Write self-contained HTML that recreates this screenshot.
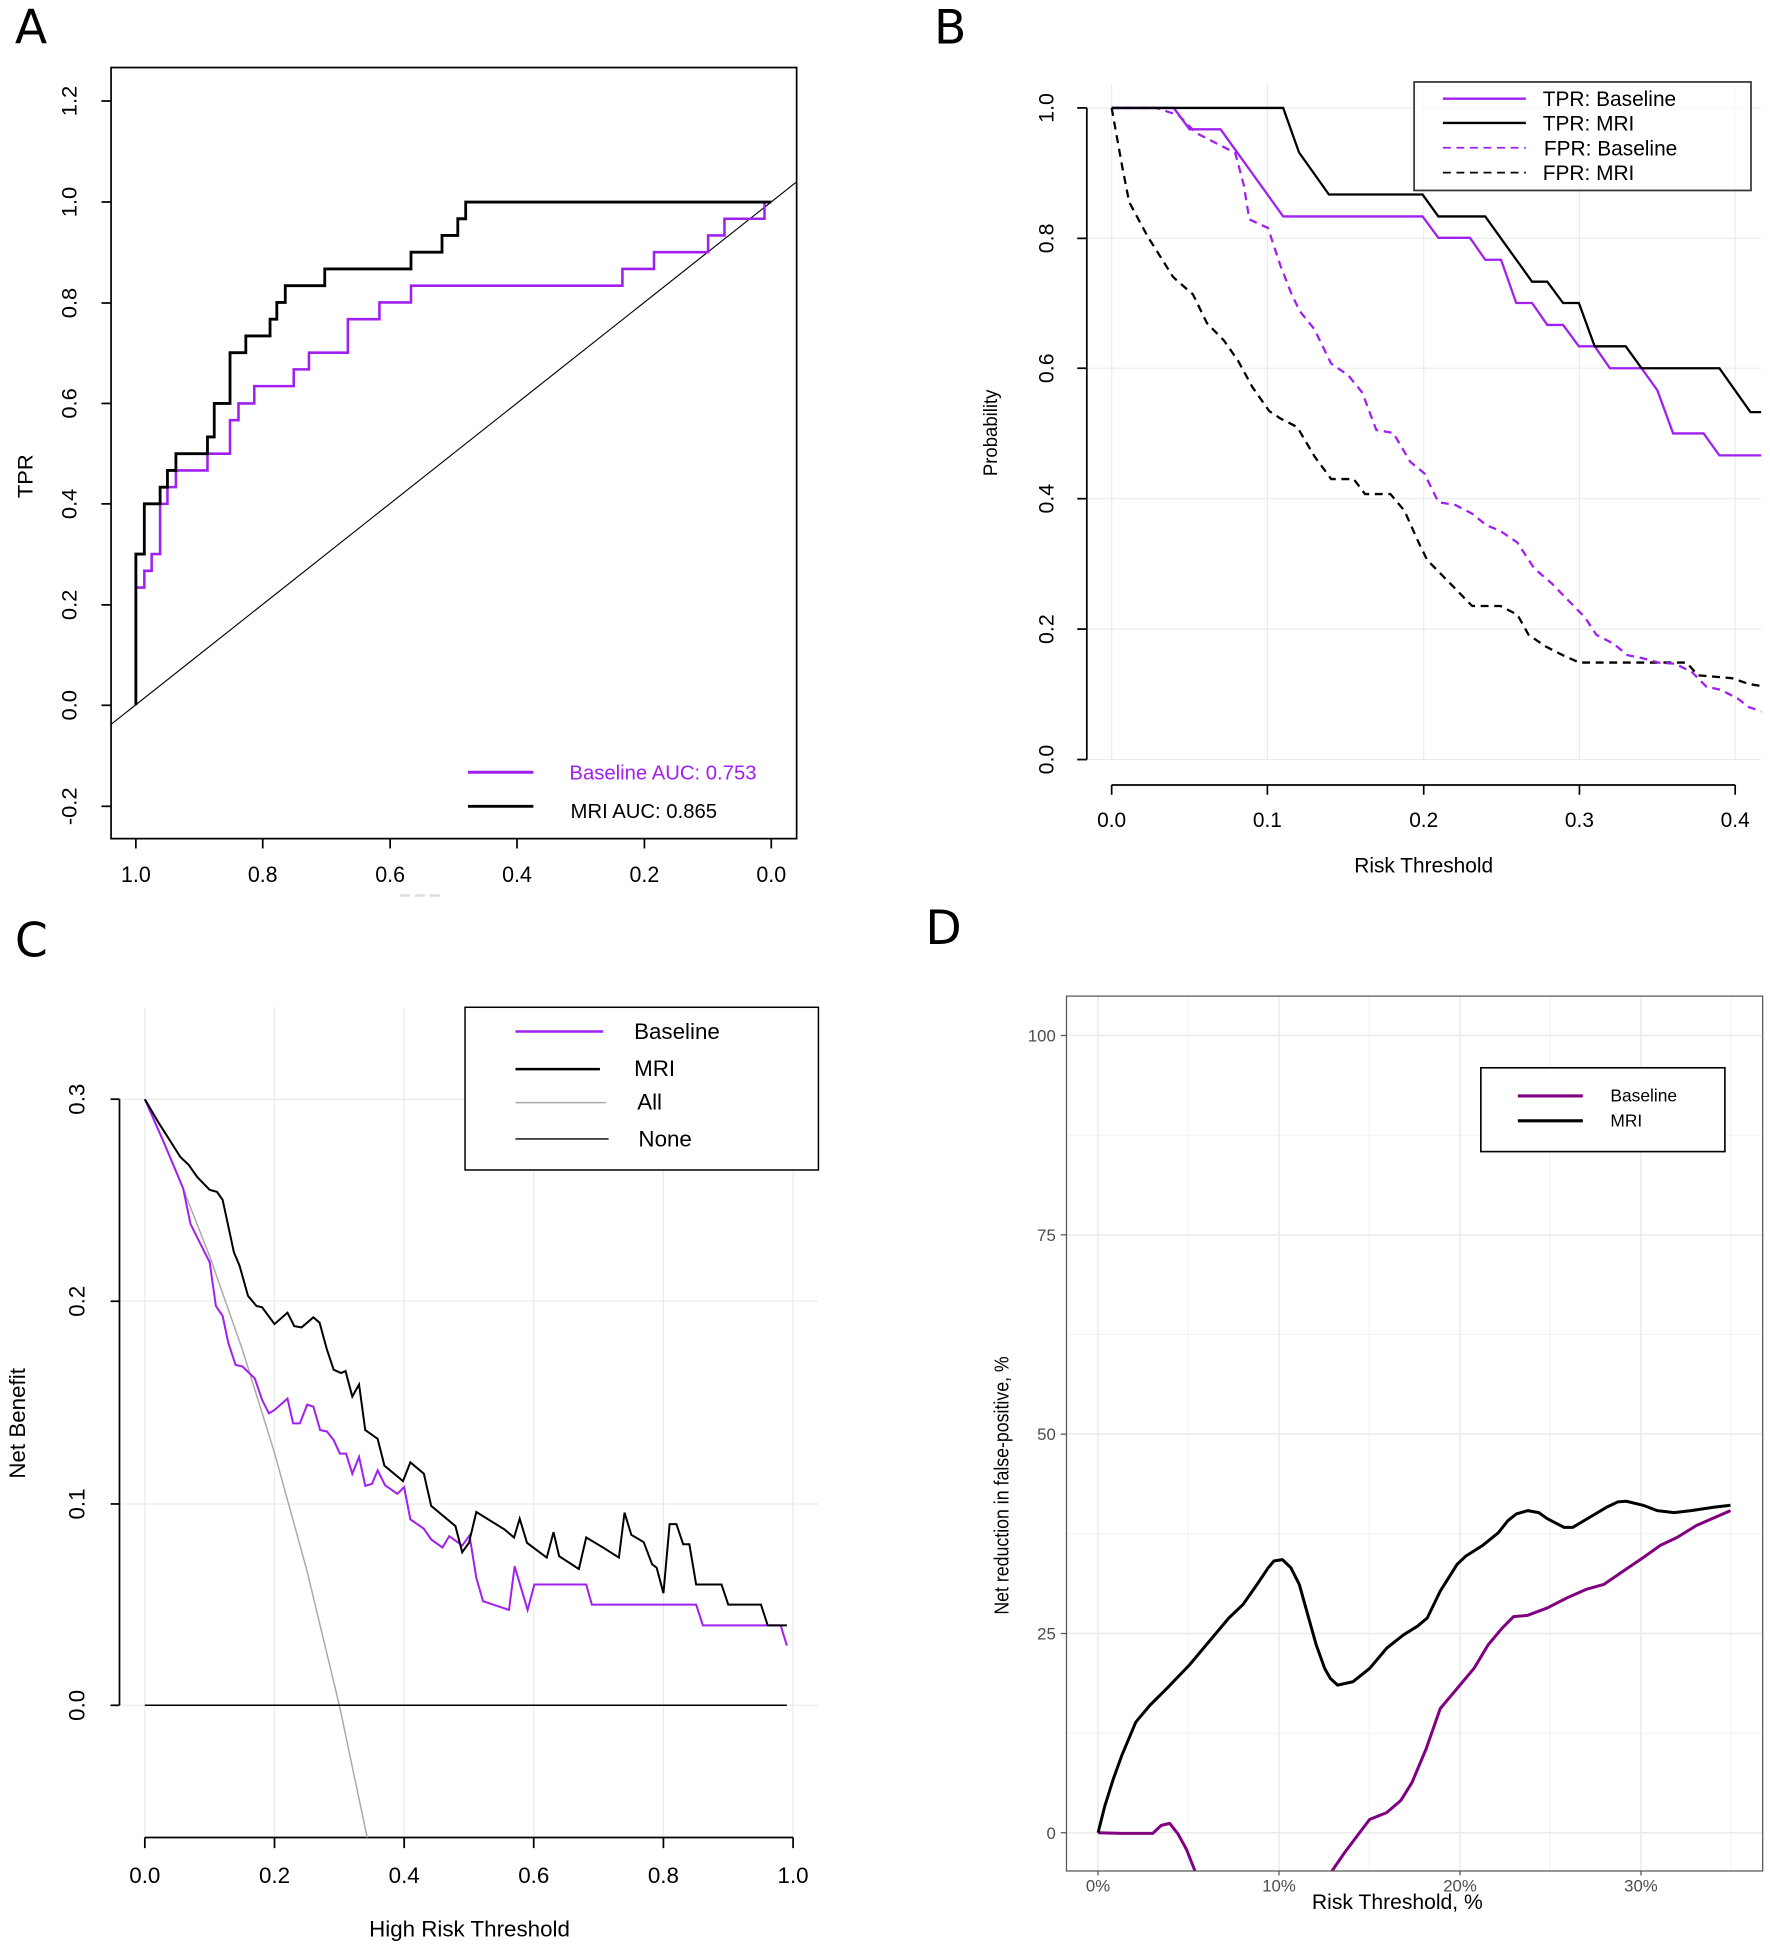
<!DOCTYPE html>
<html><head><meta charset="utf-8"><style>html,body{margin:0;padding:0;background:#fff}svg{display:block}</style></head>
<body>
<svg xmlns="http://www.w3.org/2000/svg" width="1770" height="1947" viewBox="0 0 1425 1567.6" preserveAspectRatio="none" font-family="Liberation Sans, Arial, sans-serif">
<rect width="1425" height="1567.6" fill="#fff"/>
<!-- Panel letters -->
<text x="12" y="35" font-family="DejaVu Sans, sans-serif" font-size="38">A</text>
<text x="752" y="35" font-family="DejaVu Sans, sans-serif" font-size="38">B</text>
<text x="12" y="770" font-family="DejaVu Sans, sans-serif" font-size="38">C</text>
<text x="745" y="760" font-family="DejaVu Sans, sans-serif" font-size="38">D</text>

<!-- ================= Panel A ================= -->
<g transform="scale(0.4539,0.4647)">
 <rect x="197" y="117" width="1216" height="1336" fill="none" stroke="#000" stroke-width="3"/>
 <g stroke="#000" stroke-width="3">
  <line x1="180" y1="175" x2="197" y2="175"/><line x1="180" y1="350" x2="197" y2="350"/><line x1="180" y1="525" x2="197" y2="525"/><line x1="180" y1="699" x2="197" y2="699"/><line x1="180" y1="873" x2="197" y2="873"/><line x1="180" y1="1048" x2="197" y2="1048"/><line x1="180" y1="1222" x2="197" y2="1222"/><line x1="180" y1="1397" x2="197" y2="1397"/>
  <line x1="241" y1="1453" x2="241" y2="1470"/><line x1="466" y1="1453" x2="466" y2="1470"/><line x1="692" y1="1453" x2="692" y2="1470"/><line x1="917" y1="1453" x2="917" y2="1470"/><line x1="1143" y1="1453" x2="1143" y2="1470"/><line x1="1368" y1="1453" x2="1368" y2="1470"/>
 </g>
 <g font-size="38" text-anchor="middle">
  <text transform="translate(136,175) rotate(-90)">1.2</text>
  <text transform="translate(136,350) rotate(-90)">1.0</text>
  <text transform="translate(136,525) rotate(-90)">0.8</text>
  <text transform="translate(136,699) rotate(-90)">0.6</text>
  <text transform="translate(136,873) rotate(-90)">0.4</text>
  <text transform="translate(136,1048) rotate(-90)">0.2</text>
  <text transform="translate(136,1222) rotate(-90)">0.0</text>
  <text transform="translate(136,1397) rotate(-90)">-0.2</text>
  <text transform="translate(58,825) rotate(-90)">TPR</text>
  <text x="241" y="1528">1.0</text><text x="466" y="1528">0.8</text><text x="692" y="1528">0.6</text><text x="917" y="1528">0.4</text><text x="1143" y="1528">0.2</text><text x="1368" y="1528">0.0</text>
 </g>
 <line x1="197" y1="1255" x2="1413" y2="315" stroke="#000" stroke-width="2"/>
 <polyline fill="none" stroke="#A020F0" stroke-width="4.5" points="241,1018 256,1018 256,989 269,989 269,960 284,960 284,873 297,873 297,844 312,844 312,815 368,815 368,786 408,786 408,728 423,728 423,699 451,699 451,669 521,669 521,640 548,640 548,611 617,611 617,553 673,553 673,524 729,524 729,495 1104,495 1104,466 1160,466 1160,437 1256,437 1256,408 1285,408 1285,379 1356,379 1356,350"/>
 <polyline fill="none" stroke="#000" stroke-width="5" points="241,1222 241,960 256,960 256,873 284,873 284,844 297,844 297,815 312,815 312,786 368,786 368,757 380,757 380,699 408,699 408,611 436,611 436,582 479,582 479,553 491,553 491,524 506,524 506,495 576,495 576,466 729,466 729,437 784,437 784,408 812,408 812,379 826,379 826,350 1368,350"/>
 <line x1="830" y1="1338" x2="946" y2="1338" stroke="#A020F0" stroke-width="5"/>
 <line x1="830" y1="1397" x2="946" y2="1397" stroke="#000" stroke-width="5"/>
 <text x="1010" y="1351" font-size="36" fill="#A020F0">Baseline AUC: 0.753</text>
 <text x="1012" y="1417" font-size="36">MRI AUC: 0.865</text>
</g>
<line x1="322" y1="721" x2="354" y2="721" stroke="#ddd" stroke-width="2" stroke-dasharray="8,4"/>

<!-- ================= Panel B ================= -->
<g transform="translate(712.8,0) scale(0.4543,0.4647)">
 <defs><clipPath id="cb"><rect x="357" y="100" width="1195" height="1216"/></clipPath></defs>
 <g stroke="#ebebeb" stroke-width="2">
  <line x1="401" y1="145" x2="401" y2="1316"/><line x1="677" y1="145" x2="677" y2="1316"/><line x1="954" y1="145" x2="954" y2="1316"/><line x1="1230" y1="145" x2="1230" y2="1316"/><line x1="1506" y1="145" x2="1506" y2="1316"/>
  <line x1="357" y1="187" x2="1552" y2="187"/><line x1="357" y1="413" x2="1552" y2="413"/><line x1="357" y1="638" x2="1552" y2="638"/><line x1="357" y1="864" x2="1552" y2="864"/><line x1="357" y1="1090" x2="1552" y2="1090"/><line x1="357" y1="1316" x2="1552" y2="1316"/>
 </g>
 <g stroke="#000" stroke-width="3">
  <line x1="357" y1="187" x2="357" y2="1316"/>
  <line x1="340" y1="187" x2="357" y2="187"/><line x1="340" y1="413" x2="357" y2="413"/><line x1="340" y1="638" x2="357" y2="638"/><line x1="340" y1="864" x2="357" y2="864"/><line x1="340" y1="1090" x2="357" y2="1090"/><line x1="340" y1="1316" x2="357" y2="1316"/>
  <line x1="401" y1="1360" x2="1506" y2="1360"/>
  <line x1="401" y1="1360" x2="401" y2="1377"/><line x1="677" y1="1360" x2="677" y2="1377"/><line x1="954" y1="1360" x2="954" y2="1377"/><line x1="1230" y1="1360" x2="1230" y2="1377"/><line x1="1506" y1="1360" x2="1506" y2="1377"/>
 </g>
 <g font-size="37" text-anchor="middle">
  <text transform="translate(298,187) rotate(-90)">1.0</text>
  <text transform="translate(298,413) rotate(-90)">0.8</text>
  <text transform="translate(298,638) rotate(-90)">0.6</text>
  <text transform="translate(298,864) rotate(-90)">0.4</text>
  <text transform="translate(298,1090) rotate(-90)">0.2</text>
  <text transform="translate(298,1316) rotate(-90)">0.0</text>
  <text transform="translate(198,750) rotate(-90)" font-size="34" textLength="150" lengthAdjust="spacingAndGlyphs">Probability</text>
  <text x="401" y="1433">0.0</text><text x="677" y="1433">0.1</text><text x="954" y="1433">0.2</text><text x="1230" y="1433">0.3</text><text x="1506" y="1433">0.4</text>
  <text x="954" y="1512">Risk Threshold</text>
 </g>
 <g clip-path="url(#cb)" fill="none" stroke-width="4">
  <polyline stroke="#000" stroke-dasharray="14,10" points="401,187 420,290 432,350 465,410 510,480 545,510 570,560 600,590 625,625 650,670 680,712 700,725 730,740 760,790 790,830 830,830 850,856 895,856 920,885 945,940 960,970 990,1000 1020,1030 1040,1050 1090,1050 1120,1065 1140,1100 1170,1120 1200,1135 1230,1148 1420,1148 1440,1170 1500,1175 1530,1185 1560,1190"/>
  <polyline stroke="#A020F0" stroke-dasharray="14,10" points="401,187 480,187 520,200 550,230 590,250 620,265 635,320 645,380 678,395 700,460 720,510 735,540 760,570 790,630 820,650 845,680 870,745 900,750 930,800 955,820 980,870 1010,875 1040,890 1065,910 1090,920 1120,940 1150,985 1180,1010 1210,1040 1240,1070 1260,1100 1290,1115 1315,1135 1340,1140 1370,1148 1400,1150 1430,1165 1455,1190 1480,1195 1510,1210 1530,1225 1560,1235"/>
  <polyline stroke="#A020F0" points="401,187 511,187 539,224 594,224 705,375 952,375 980,412 1036,412 1063,450 1091,450 1118,525 1146,525 1173,563 1201,563 1229,600 1257,600 1284,638 1340,638 1368,676 1396,751 1450,751 1478,789 1560,789"/>
  <polyline stroke="#000" points="401,187 705,187 733,264 786,337 952,337 980,375 1063,375 1146,488 1173,488 1201,525 1229,525 1257,600 1312,600 1340,638 1478,638 1533,714 1560,714"/>
 </g>
 <rect x="937" y="142" width="597" height="188" fill="#fff" fill-opacity="0.75" stroke="#333" stroke-width="3"/>
 <line x1="988" y1="171" x2="1135" y2="171" stroke="#A020F0" stroke-width="4"/>
 <line x1="988" y1="213" x2="1135" y2="213" stroke="#000" stroke-width="4"/>
 <line x1="988" y1="256" x2="1135" y2="256" stroke="#A020F0" stroke-width="3" stroke-dasharray="14,10"/>
 <line x1="988" y1="299" x2="1135" y2="299" stroke="#000" stroke-width="3" stroke-dasharray="14,10"/>
 <g font-size="37"><text x="1165" y="184">TPR: Baseline</text><text x="1165" y="226">TPR: MRI</text><text x="1167" y="269">FPR: Baseline</text><text x="1165" y="312">FPR: MRI</text></g>
</g>

<!-- ================= Panel C ================= -->
<g stroke="#ebebeb" stroke-width="1">
 <line x1="116.6" y1="811" x2="116.6" y2="1479"/><line x1="221" y1="811" x2="221" y2="1479"/><line x1="325.4" y1="811" x2="325.4" y2="1479"/><line x1="429.7" y1="811" x2="429.7" y2="1479"/><line x1="534.1" y1="811" x2="534.1" y2="1479"/><line x1="638.5" y1="811" x2="638.5" y2="1479"/>
 <line x1="96" y1="885" x2="659" y2="885"/><line x1="96" y1="1047.7" x2="659" y2="1047.7"/><line x1="96" y1="1210.9" x2="659" y2="1210.9"/><line x1="96" y1="1373" x2="659" y2="1373"/>
</g>
<g stroke="#000" stroke-width="1.4">
 <line x1="96.2" y1="885" x2="96.2" y2="1373"/>
 <line x1="89" y1="885" x2="96.2" y2="885"/><line x1="89" y1="1047.7" x2="96.2" y2="1047.7"/><line x1="89" y1="1210.9" x2="96.2" y2="1210.9"/><line x1="89" y1="1373" x2="96.2" y2="1373"/>
 <line x1="116.6" y1="1479.4" x2="638.5" y2="1479.4"/>
 <line x1="116.6" y1="1479.4" x2="116.6" y2="1488"/><line x1="221" y1="1479.4" x2="221" y2="1488"/><line x1="325.4" y1="1479.4" x2="325.4" y2="1488"/><line x1="429.7" y1="1479.4" x2="429.7" y2="1488"/><line x1="534.1" y1="1479.4" x2="534.1" y2="1488"/><line x1="638.5" y1="1479.4" x2="638.5" y2="1488"/>
</g>
<g font-size="18" text-anchor="middle">
 <text transform="translate(68,885) rotate(-90)">0.3</text>
 <text transform="translate(68,1047.7) rotate(-90)">0.2</text>
 <text transform="translate(68,1210.9) rotate(-90)">0.1</text>
 <text transform="translate(68,1373) rotate(-90)">0.0</text>
 <text transform="translate(20,1146) rotate(-90)">Net Benefit</text>
 <text x="116.6" y="1516">0.0</text><text x="221" y="1516">0.2</text><text x="325.4" y="1516">0.4</text><text x="429.7" y="1516">0.6</text><text x="534.1" y="1516">0.8</text><text x="638.5" y="1516">1.0</text>
 <text x="378" y="1559">High Risk Threshold</text>
</g>
<polyline fill="none" stroke="#aaa" stroke-width="1.2" points="116.6,885 142.7,944.9 168.8,1011.5 194.9,1085.9 221,1169.7 247.1,1264.5 273.2,1373 295.6,1479.4"/>
<line x1="116.6" y1="1373" x2="633.5" y2="1373" stroke="#000" stroke-width="1.2"/>
<g transform="translate(0,724.6) scale(0.4538,0.5403)" fill="none">
 <polyline vector-effect="non-scaling-stroke" stroke="#A020F0" stroke-width="2" points="257,297 290,360 325,430 338,483 372,540 383,605 395,620 405,660 418,693 430,695 452,713 465,745 477,765 487,760 510,743 520,780 532,780 545,752 556,755 568,790 580,792 592,805 603,825 614,825 625,855 637,830 648,873 660,870 670,850 683,872 705,885 717,875 728,923 752,937 765,953 785,965 797,948 820,962 833,947 845,1010 857,1045 903,1058 913,993 936,1058 948,1020 1040,1020 1050,1050 1235,1050 1247,1081 1385,1081 1396,1111"/>
 <polyline vector-effect="non-scaling-stroke" stroke="#000" stroke-width="2" points="257,297 280,330 320,383 335,395 350,413 372,432 385,435 395,447 415,525 425,545 440,590 455,605 465,607 487,632 510,615 522,635 535,637 556,622 567,630 580,670 592,700 605,705 613,702 625,740 637,722 648,790 670,803 682,843 715,866 728,838 752,855 765,903 808,933 820,972 832,958 845,912 895,938 912,950 922,922 935,958 970,980 982,942 992,978 1027,997 1040,950 1070,965 1098,980 1108,913 1120,946 1142,957 1157,990 1165,995 1177,1033 1188,930 1200,930 1212,960 1223,960 1235,1020 1280,1020 1292,1050 1350,1050 1362,1081 1396,1081"/>
</g>
<rect x="374.4" y="811" width="284.5" height="131" fill="#fff" stroke="#000" stroke-width="1.2"/>
<line x1="415" y1="830.5" x2="485.6" y2="830.5" stroke="#A020F0" stroke-width="2"/>
<line x1="415" y1="860.8" x2="483" y2="860.8" stroke="#000" stroke-width="2"/>
<line x1="415" y1="887.8" x2="488" y2="887.8" stroke="#aaa" stroke-width="1.2"/>
<line x1="415" y1="917" x2="490" y2="917" stroke="#000" stroke-width="1.2"/>
<g font-size="18"><text x="510.5" y="836.5">Baseline</text><text x="510.5" y="866.5">MRI</text><text x="513" y="893.5">All</text><text x="514" y="923">None</text></g>

<!-- ================= Panel D ================= -->
<g stroke="#f2f2f2" stroke-width="0.8">
 <line x1="858.6" y1="914" x2="1419" y2="914"/><line x1="858.6" y1="1074.5" x2="1419" y2="1074.5"/><line x1="858.6" y1="1235" x2="1419" y2="1235"/><line x1="858.6" y1="1395.4" x2="1419" y2="1395.4"/>
 <line x1="956.6" y1="802" x2="956.6" y2="1506"/><line x1="1102.3" y1="802" x2="1102.3" y2="1506"/><line x1="1248" y1="802" x2="1248" y2="1506"/><line x1="1393.6" y1="802" x2="1393.6" y2="1506"/>
</g>
<g stroke="#ebebeb" stroke-width="1.2">
 <line x1="858.6" y1="833.7" x2="1419" y2="833.7"/><line x1="858.6" y1="994.2" x2="1419" y2="994.2"/><line x1="858.6" y1="1154.7" x2="1419" y2="1154.7"/><line x1="858.6" y1="1315.2" x2="1419" y2="1315.2"/><line x1="858.6" y1="1475.6" x2="1419" y2="1475.6"/>
 <line x1="884" y1="802" x2="884" y2="1506"/><line x1="1029.7" y1="802" x2="1029.7" y2="1506"/><line x1="1175.4" y1="802" x2="1175.4" y2="1506"/><line x1="1321.1" y1="802" x2="1321.1" y2="1506"/>
</g>
<defs><clipPath id="cd"><rect x="858.6" y="802" width="560.5" height="704.4"/></clipPath></defs>
<g clip-path="url(#cd)">
<g transform="translate(712.5,724.6) scale(0.4538,0.5403)" fill="none">
 <polyline vector-effect="non-scaling-stroke" stroke="#800080" stroke-width="3" stroke-linejoin="round" points="378,1390 420,1391 475,1391 490,1379 505,1376 520,1392 535,1415 550,1447 555,1460"/>
 <polyline vector-effect="non-scaling-stroke" stroke="#800080" stroke-width="3" stroke-linejoin="round" points="785,1460 793,1447 815,1420 840,1392 860,1370 890,1360 915,1342 935,1315 960,1265 985,1205 1000,1190 1020,1170 1045,1145 1070,1110 1095,1085 1115,1068 1140,1066 1175,1055 1210,1040 1245,1027 1275,1020 1310,1000 1345,980 1375,962 1405,950 1440,932 1500,910"/>
 <polyline vector-effect="non-scaling-stroke" stroke="#000" stroke-width="3" stroke-linejoin="round" points="378,1390 390,1350 405,1310 420,1275 445,1225 470,1200 500,1175 540,1140 580,1100 610,1070 635,1050 660,1020 680,995 690,985 705,983 720,995 735,1020 750,1065 765,1110 780,1145 790,1160 803,1170 830,1165 860,1145 890,1115 920,1095 945,1082 962,1070 985,1030 1015,990 1030,978 1060,962 1088,943 1105,925 1120,915 1140,910 1160,913 1175,922 1205,935 1220,935 1250,920 1280,905 1300,897 1315,896 1345,902 1370,910 1400,913 1430,910 1470,905 1500,902"/>
</g>
</g>
<rect x="858.6" y="802" width="560.5" height="704.4" fill="none" stroke="#555" stroke-width="1"/>
<g stroke="#555" stroke-width="1">
 <line x1="854" y1="833.7" x2="858.6" y2="833.7"/><line x1="854" y1="994.2" x2="858.6" y2="994.2"/><line x1="854" y1="1154.7" x2="858.6" y2="1154.7"/><line x1="854" y1="1315.2" x2="858.6" y2="1315.2"/><line x1="854" y1="1475.6" x2="858.6" y2="1475.6"/>
 <line x1="884" y1="1506.4" x2="884" y2="1510"/><line x1="1029.7" y1="1506.4" x2="1029.7" y2="1510"/><line x1="1175.4" y1="1506.4" x2="1175.4" y2="1510"/><line x1="1321.1" y1="1506.4" x2="1321.1" y2="1510"/>
</g>
<g font-size="13.5" fill="#4d4d4d">
 <g text-anchor="end"><text x="850" y="838.5">100</text><text x="850" y="999">75</text><text x="850" y="1159.5">50</text><text x="850" y="1320">25</text><text x="850" y="1480.5">0</text></g>
 <g text-anchor="middle"><text x="884" y="1523">0%</text><text x="1029.7" y="1523">10%</text><text x="1175.4" y="1523">20%</text><text x="1321.1" y="1523">30%</text></g>
</g>
<text x="1125" y="1537" font-size="17" text-anchor="middle">Risk Threshold, %</text>
<text transform="translate(812,1196) rotate(-90)" font-size="16" text-anchor="middle" textLength="208" lengthAdjust="spacingAndGlyphs">Net reduction in false-positive, %</text>
<rect x="1192.2" y="859.7" width="196.5" height="67.5" fill="#fff" stroke="#000" stroke-width="1.3"/>
<line x1="1222" y1="882.4" x2="1274.3" y2="882.4" stroke="#800080" stroke-width="2.5"/>
<line x1="1222" y1="902.4" x2="1274.3" y2="902.4" stroke="#000" stroke-width="2.5"/>
<g font-size="14"><text x="1296.5" y="887">Baseline</text><text x="1296.5" y="907">MRI</text></g>
</svg>
</body></html>
